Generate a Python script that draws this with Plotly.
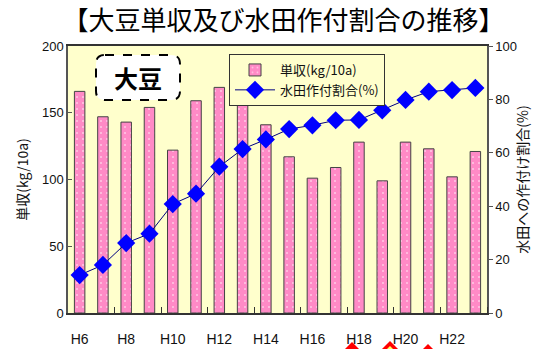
import plotly.graph_objects as go

# Heisei years H6..H23
heisei_years = list(range(6, 24))
year_labels = [f"H{y}" for y in heisei_years]

# Soybean yield (kg/10a)
yield_kg = [166, 147, 143, 154, 122, 159, 169, 159, 141, 117,
            101, 109, 128, 99, 128, 123, 102, 121]

# Share of soybean planted in paddy fields (%)
paddy_share = [14.2, 18.0, 26.2, 29.7, 40.8, 44.7, 54.8, 61.4, 65.0, 68.9,
               70.3, 72.2, 72.3, 75.9, 79.8, 82.9, 83.5, 84.3]

# Labelled ticks every second year
tick_years = heisei_years[::2]
tick_text = [f"H{y}" for y in tick_years]
boundary_ticks = [y + 1.5 for y in tick_years]

FONT = "Arial, 'Liberation Sans', 'Noto Sans CJK JP', sans-serif"
JP = "'Noto Sans CJK JP', sans-serif"

fig = go.Figure()

fig.add_trace(go.Bar(
    x=heisei_years, y=yield_kg, name="単収(kg/10a)",
    width=0.45,
    marker=dict(color="#FF8AC6", line=dict(color="#444444", width=1),
                pattern=dict(shape=".", fgcolor="white", size=6, solidity=0.1)),
    yaxis="y",
))

fig.add_trace(go.Scatter(
    x=heisei_years, y=paddy_share, name="水田作付割合(%)",
    mode="lines+markers",
    line=dict(color="#000080", width=1),
    marker=dict(symbol="diamond", size=14, color="#0000FF"),
    yaxis="y2",
))

W, H = 545, 349
L, R, T, B = 68, 487, 46, 313


def px(x):
    return (x - L) / (R - L)


def py(y):
    return (B - y) / (B - T)


# Dashed rounded label box
x0, x1, y0, y1, r = 96, 180, 55, 100, 9
path = (f"M {px(x0 + r)} {py(y0)} L {px(x1 - r)} {py(y0)} "
        f"Q {px(x1)} {py(y0)} {px(x1)} {py(y0 + r)} L {px(x1)} {py(y1 - r)} "
        f"Q {px(x1)} {py(y1)} {px(x1 - r)} {py(y1)} L {px(x0 + r)} {py(y1)} "
        f"Q {px(x0)} {py(y1)} {px(x0)} {py(y1 - r)} L {px(x0)} {py(y0 + r)} "
        f"Q {px(x0)} {py(y0)} {px(x0 + r)} {py(y0)} Z")
shapes = [dict(type="path", xref="paper", yref="paper", path=path,
               fillcolor="white", line=dict(color="black", width=2, dash="dash"))]


def tri(cx, top, half, color):
    return dict(type="path", xref="paper", yref="paper",
                path=f"M {px(cx)} {py(top)} L {px(cx + half)} {py(top + half)} "
                     f"L {px(cx - half)} {py(top + half)} Z",
                fillcolor=color, line=dict(width=0), layer="above")


shapes += [tri(352, 342, 11, "#FF0000"), tri(390, 341, 13, "#FF0000"),
           tri(390, 346, 7, "#FFFF66"), tri(428, 344, 11, "#FF0000")]

fig.update_layout(
    width=W, height=H,
    margin=dict(l=L, r=W - R, t=T, b=H - B, autoexpand=False),
    paper_bgcolor="white",
    plot_bgcolor="#FFFFCC",
    font=dict(family=FONT, size=12, color="#111111"),
    title=dict(text="【大豆単収及び水田作付割合の推移】", x=0.52, xanchor="center",
               y=1 - 21 / H, yanchor="middle", yref="container",
               font=dict(family=JP, size=26, color="black")),
    showlegend=True,
    legend=dict(x=px(229), y=py(54), xanchor="left", yanchor="top",
                bgcolor="#FFFFCC", bordercolor="#333333", borderwidth=1,
                font=dict(family=JP, size=13), tracegroupgap=2,
                itemwidth=40),
    shapes=shapes,
    annotations=[dict(text="<b>大豆</b>", x=px(138), y=py(78), xref="paper", yref="paper",
                      xanchor="center", yanchor="middle",
                      showarrow=False, font=dict(family=JP, size=24, color="black"))],
    xaxis=dict(range=[5.5, 23.5], tickvals=tick_years, ticktext=tick_text,
               ticks="", showgrid=False, zeroline=False, automargin=False,
               showline=True, linecolor="#333333", linewidth=1.5, mirror=True,
               ticklabelstandoff=12, tickfont=dict(size=14),
               minor=dict(tickvals=boundary_ticks, ticks="inside", ticklen=6,
                          tickcolor="#333333", showgrid=False)),
    yaxis=dict(range=[0, 200], tickvals=[0, 50, 100, 150, 200], ticks="inside",
               ticklen=4, tickcolor="#555555", showgrid=False, zeroline=False,
               showline=True, linecolor="#555555", linewidth=1.5, automargin=False,
               title=dict(text="単収(kg/10a)", font=dict(family=JP, size=14), standoff=10),
               tickfont=dict(size=13)),
    yaxis2=dict(range=[0, 100], tickvals=[0, 20, 40, 60, 80, 100], overlaying="y",
                side="right", ticks="outside", ticklen=4, tickcolor="#555555",
                showgrid=False, zeroline=False, showline=True, linecolor="#555555",
                linewidth=1.5, automargin=False,
                title=dict(text="水田への作付け割合(%)", font=dict(family=JP, size=14),
                           standoff=2),
                tickfont=dict(size=13)),
)

fig.write_html("out.html")
